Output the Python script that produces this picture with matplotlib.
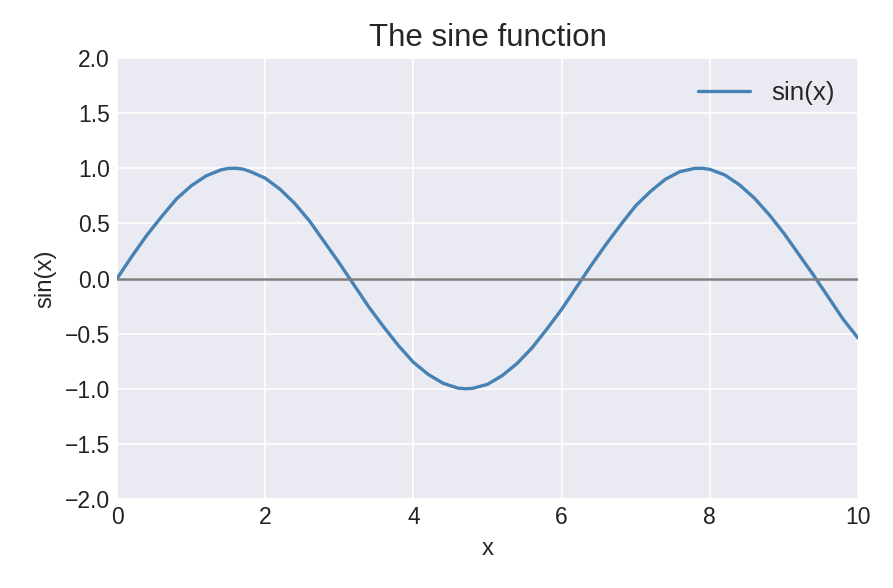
import matplotlib
matplotlib.use("Agg")
import matplotlib.pyplot as plt

x_values = [0.0, 0.2, 0.4, 0.6, 0.8, 1.0, 1.2, 1.4, 1.5, 1.6, 1.7, 1.8,
            2.0, 2.2, 2.4, 2.6, 2.8, 3.0, 3.2, 3.4, 3.6, 3.8,
            4.0, 4.2, 4.4, 4.6, 4.7, 4.8, 5.0, 5.2, 5.4, 5.6, 5.8,
            6.0, 6.2, 6.4, 6.6, 6.8, 7.0, 7.2, 7.4, 7.6, 7.8, 7.9,
            8.0, 8.2, 8.4, 8.6, 8.8, 9.0, 9.2, 9.4, 9.6, 9.8, 10.0]
sin_values = [0.00, 0.20, 0.39, 0.56, 0.72, 0.84, 0.93, 0.985, 0.998, 1.00, 0.992, 0.97,
              0.91, 0.81, 0.68, 0.52, 0.33, 0.14, -0.06, -0.26, -0.44, -0.61,
              -0.76, -0.87, -0.95, -0.994, -1.00, -0.996, -0.96, -0.88, -0.77, -0.63, -0.46,
              -0.28, -0.08, 0.12, 0.31, 0.49, 0.66, 0.79, 0.90, 0.97, 0.999, 0.999,
              0.99, 0.94, 0.85, 0.73, 0.58, 0.41, 0.22, 0.03, -0.17, -0.37, -0.54]
series_label = "sin(x)"
x_ticks = [0, 2, 4, 6, 8, 10]
y_ticks = [-2.0, -1.5, -1.0, -0.5, 0.0, 0.5, 1.0, 1.5, 2.0]

plt.style.use("seaborn-v0_8-darkgrid")
plt.rcParams["font.family"] = ["Liberation Sans", "DejaVu Sans"]

fig = plt.figure(figsize=(893 / 150, 588 / 150), dpi=150)
ax = fig.add_axes([117 / 893, 1 - 499 / 588, (858 - 117) / 893, (499 - 58) / 588])

ax.plot(x_values, sin_values, color="#4682b4", lw=1.6, label=series_label)
ax.axhline(0, color="gray", lw=1.2)
ax.set_xlim(0, 10)
ax.set_ylim(-2, 2)
ax.set_xticks(x_ticks)
ax.set_yticks(y_ticks)
ax.tick_params(labelsize=11, colors="#222222")
ax.set_xlabel("x", fontsize=11.5)
ax.set_ylabel("sin(x)", fontsize=11.5)
ax.set_title("The sine function", fontsize=15)
ax.legend(loc="upper right", fontsize=12.5, frameon=False)

fig.savefig("out.png", dpi=150)
